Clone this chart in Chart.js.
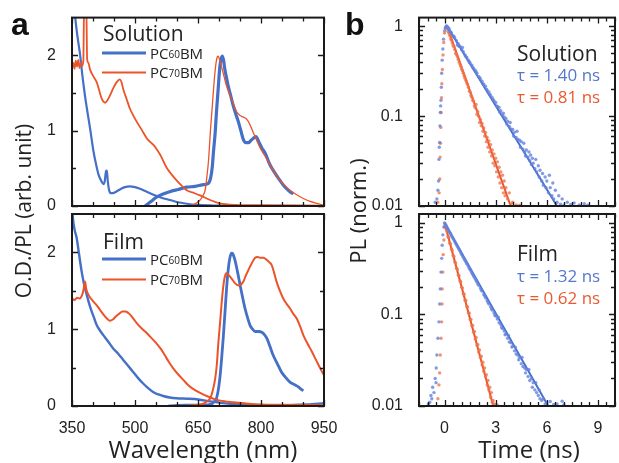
<!DOCTYPE html>
<html>
<head>
<meta charset="utf-8">
<script src="https://cdn.jsdelivr.net/npm/chart.js@4.4.0/dist/chart.umd.min.js"></script>
<style>
  body { margin: 0; background: #fff; width: 619px; height: 463px; position: relative; overflow: hidden; font-family: 'Open Sans', sans-serif; color: #222; }
  canvas { position: absolute; left: 0; top: 0; }
  .lbl { position: absolute; white-space: nowrap; line-height: 1; }
  .mid { transform: translateY(-50%); }
  .ctr { transform: translate(-50%, -50%); }
  .rot { transform: translate(-50%, -50%) rotate(-90deg); }
  .letter { font: bold 32px 'Liberation Sans', Arial, sans-serif; color: #111; }
  .title { font-size: 24px; }
  .head { font-size: 21px; }
  .leg { font-size: 15px; display: flex; align-items: center; }
  .leg span.ln { display: inline-block; width: 44px; margin-right: 4px; }
  .leg sub { font-size: 10px; vertical-align: -3px; }
  .tau { font-size: 17px; }
</style>
</head>
<body>
<canvas id="absSol" width="619" height="463"></canvas>
<canvas id="absFilm" width="619" height="463"></canvas>
<canvas id="plSol" width="619" height="463"></canvas>
<canvas id="plFilm" width="619" height="463"></canvas>

<div class="lbl letter" style="left:11px;top:6px">a</div>
<div class="lbl letter" style="left:345px;top:6px">b</div>
<div class="lbl title ctr" style="left:203px;top:449px">Wavelength (nm)</div>
<div class="lbl title ctr" style="left:529px;top:449px">Time (ns)</div>
<div class="lbl title rot" style="left:23px;top:211px;font-size:21px">O.D./PL (arb. unit)</div>
<div class="lbl title rot" style="left:357px;top:211px;font-size:22px">PL (norm.)</div>

<div class="lbl head mid" style="left:103px;top:33px">Solution</div>
<div class="lbl leg mid" style="left:102px;top:53px"><span class="ln" style="height:3px;background:#4470c8"></span>PC<sub>60</sub>BM</div>
<div class="lbl leg mid" style="left:102px;top:72px"><span class="ln" style="height:2px;background:#ec5328"></span>PC<sub>70</sub>BM</div>

<div class="lbl head mid" style="left:103px;top:241px">Film</div>
<div class="lbl leg mid" style="left:102px;top:259px"><span class="ln" style="height:3px;background:#4470c8"></span>PC<sub>60</sub>BM</div>
<div class="lbl leg mid" style="left:102px;top:279px"><span class="ln" style="height:2px;background:#ec5328"></span>PC<sub>70</sub>BM</div>

<div class="lbl head mid" style="left:517px;top:53px">Solution</div>
<div class="lbl tau mid" style="left:517px;top:74px;color:#5577cc">τ = 1.40 ns</div>
<div class="lbl tau mid" style="left:517px;top:96px;color:#e95a30">τ = 0.81 ns</div>

<div class="lbl head mid" style="left:517px;top:253px">Film</div>
<div class="lbl tau mid" style="left:517px;top:275px;color:#5577cc">τ = 1.32 ns</div>
<div class="lbl tau mid" style="left:517px;top:297px;color:#e95a30">τ = 0.62 ns</div>

<script>
// axis labels
const wlTicks = [350, 500, 650, 800, 950];
const odTicks = [0, 1, 2];
const timeTicks = [0, 3, 6, 9];
const plTicks = [0.01, 0.1, 1];

// absorption and PL spectra, [wavelength nm, O.D./PL]
const solAbs60 = [[350,3.2],[357,2.55],[363,2.25],[369,2.02],[375,1.72],[381,1.46],[387,1.24],[393,1.03],[401,0.73],[407,0.56],[413,0.42],[419,0.34],[425,0.29],[428,0.33],[431,0.46],[433,0.47],[435,0.34],[438,0.22],[442,0.17],[447,0.17],[455,0.19],[464,0.22],[476,0.25],[488,0.26],[500,0.25],[512,0.23],[528,0.19],[544,0.15],[563,0.11],[583,0.08],[603,0.05],[623,0.03],[650,0.015],[700,0.005],[750,0]];
const solAbs70 = [[350,1.84],[353,1.9],[356,1.82],[359,1.93],[362,1.85],[365,1.94],[368,1.83],[371,1.9],[374,1.86],[377,1.93],[379,2.7],[384,2.7],[386,1.95],[389,1.9],[393,1.81],[401,1.72],[409,1.64],[415,1.53],[421,1.42],[429,1.37],[434,1.4],[440,1.46],[448,1.56],[456,1.64],[464,1.68],[468,1.64],[472,1.55],[480,1.42],[488,1.29],[496,1.2],[504,1.12],[516,1.01],[528,0.9],[536,0.85],[544,0.81],[552,0.75],[560,0.68],[568,0.59],[575,0.51],[587,0.42],[599,0.34],[611,0.27],[623,0.21],[637,0.18],[655,0.14],[679,0.08],[702,0.035],[740,0.015],[800,0.01],[950,0.005]];
const solPL60 = [[524,0],[538,0.06],[552,0.12],[567,0.16],[583,0.19],[603,0.22],[623,0.25],[643,0.26],[660,0.28],[671,0.29],[676,0.31],[680,0.37],[684,0.52],[687,0.73],[691,0.98],[694,1.25],[698,1.55],[702,1.85],[706,1.97],[708,1.99],[711,1.93],[714,1.81],[718,1.7],[722,1.59],[728,1.46],[734,1.33],[740,1.22],[746,1.12],[752,1.0],[758,0.88],[764,0.84],[770,0.84],[776,0.87],[782,0.9],[788,0.92],[794,0.86],[802,0.77],[810,0.7],[821,0.55],[833,0.44],[845,0.34],[853,0.28],[861,0.23],[869,0.19],[877,0.16]];
const solPL70 = [[627,0],[640,0.02],[655,0.08],[662,0.14],[667,0.21],[671,0.38],[675,0.6],[680,1.03],[684,1.32],[687,1.55],[690,1.75],[693,1.9],[696,1.98],[698,1.99],[702,1.93],[706,1.85],[712,1.72],[718,1.59],[724,1.5],[730,1.42],[736,1.33],[742,1.25],[750,1.2],[758,1.18],[764,1.16],[770,1.12],[776,1.05],[782,0.97],[790,0.87],[798,0.77],[810,0.66],[821,0.55],[833,0.44],[845,0.34],[857,0.27],[869,0.21],[885,0.15],[901,0.1],[917,0.06],[933,0.035],[950,0.01]];

const filmAbs60 = [[350,2.6],[352,2.45],[356,2.3],[361,2.19],[367,1.97],[373,1.75],[379,1.58],[385,1.45],[391,1.33],[397,1.23],[403,1.14],[409,1.05],[417,0.98],[425,0.92],[436,0.84],[448,0.75],[460,0.68],[472,0.6],[484,0.52],[496,0.44],[508,0.36],[520,0.29],[532,0.23],[544,0.18],[556,0.15],[567,0.13],[583,0.11],[599,0.1],[625,0.095],[651,0.085],[679,0.06],[700,0.045],[726,0.03],[760,0.02],[790,0.012],[830,0.01],[870,0.012],[910,0.02],[950,0.035]];
const filmAbs70 = [[350,1.4],[356,1.38],[362,1.41],[368,1.4],[373,1.43],[377,1.5],[381,1.62],[384,1.52],[389,1.45],[395,1.4],[401,1.36],[409,1.31],[417,1.25],[425,1.19],[433,1.14],[440,1.11],[448,1.13],[455,1.17],[462,1.2],[470,1.23],[478,1.23],[484,1.21],[490,1.18],[497,1.13],[504,1.08],[516,1.01],[528,0.95],[540,0.88],[552,0.81],[562,0.74],[571,0.66],[581,0.57],[591,0.49],[603,0.41],[615,0.34],[627,0.27],[639,0.22],[655,0.17],[675,0.12],[695,0.08],[715,0.06],[734,0.05],[770,0.03],[800,0.02],[850,0.015],[950,0.01]];
const filmPL60 = [[580,0],[620,0.01],[650,0.01],[670,0.015],[679,0.02],[688,0.05],[694,0.1],[698,0.2],[702,0.36],[706,0.6],[710,0.88],[714,1.2],[718,1.53],[722,1.78],[726,1.93],[730,1.99],[733,1.98],[738,1.9],[744,1.75],[750,1.58],[756,1.42],[762,1.27],[768,1.15],[774,1.05],[780,1.0],[786,0.97],[794,0.97],[802,0.96],[808,0.93],[814,0.88],[821,0.78],[829,0.66],[839,0.55],[849,0.44],[859,0.37],[869,0.31],[879,0.28],[889,0.25],[895,0.22],[901,0.2]];
const filmPL70 = [[620,0],[640,0.01],[655,0.02],[663,0.03],[671,0.06],[679,0.1],[685,0.2],[691,0.36],[695,0.55],[698,0.79],[702,1.05],[706,1.32],[710,1.55],[713,1.66],[716,1.72],[718,1.73],[722,1.71],[730,1.66],[738,1.6],[746,1.57],[752,1.58],[758,1.62],[764,1.7],[770,1.77],[778,1.86],[786,1.93],[792,1.94],[798,1.93],[806,1.93],[814,1.9],[820,1.87],[825,1.84],[831,1.74],[837,1.62],[845,1.5],[853,1.4],[861,1.33],[869,1.27],[877,1.2],[885,1.14],[893,1.04],[901,0.92],[911,0.81],[921,0.71],[931,0.6],[941,0.49],[950,0.4]];

// time-resolved PL, [time ns, normalised PL]
const solDecay60 = [[-0.55,0.011],[-0.45,0.012],[-0.39,0.015],[-0.35,0.019],[-0.33,0.033],[-0.31,0.045],[-0.29,0.051],[-0.27,0.078],[-0.25,0.11],[-0.23,0.13],[-0.21,0.15],[-0.19,0.21],[-0.17,0.3],[-0.14,0.42],[-0.1,0.56],[-0.06,0.72],[0,0.89],[0.05,0.95],[0.1,1.0],[0.15,1.0],
  [0.2,0.96],[0.25,0.95],[0.3,0.9],[0.35,0.86],[0.4,0.85],[0.5,0.78],[0.55,0.77],[0.6,0.74],[0.7,0.69],[0.75,0.62],[0.8,0.64],[0.85,0.6],[0.9,0.6],[1.0,0.55],[1.05,0.58],[1.1,0.52],[1.2,0.48],[1.25,0.46],[1.3,0.45],[1.4,0.42],[1.45,0.4],[1.5,0.39],[1.6,0.37],[1.65,0.35],[1.7,0.34],[1.8,0.325],[1.85,0.31],[1.9,0.3],[2.0,0.275],[2.05,0.27],[2.1,0.26],[2.2,0.245],[2.25,0.23],[2.3,0.225],[2.4,0.215],[2.45,0.2],[2.5,0.195],[2.6,0.186],[2.65,0.175],[2.7,0.17],[2.8,0.16],[2.85,0.152],[2.9,0.148],[3.0,0.142],[3.05,0.13],[3.1,0.128],[3.2,0.125],[3.25,0.11],[3.3,0.115],[3.4,0.103],[3.45,0.108],[3.5,0.098],[3.6,0.094],[3.65,0.082],[3.7,0.088],[3.8,0.077],[3.85,0.085],[3.9,0.072],[4.0,0.071],[4.05,0.06],[4.1,0.066],[4.2,0.058],[4.25,0.068],[4.3,0.055],[4.4,0.054],[4.45,0.045],[4.5,0.052],[4.6,0.043],[4.65,0.05],[4.7,0.04],[4.75,0.036],[4.8,0.042],[4.9,0.035],[4.95,0.04],[5.0,0.032],[5.05,0.037],[5.1,0.029],[5.15,0.034],[5.2,0.03],[5.3,0.026],[5.35,0.033],[5.4,0.024],[5.5,0.028],[5.55,0.021],[5.6,0.025],[5.7,0.019],[5.75,0.023],[5.8,0.017],[5.9,0.021],[5.95,0.016],[6.0,0.019],[6.1,0.014],[6.15,0.022],[6.2,0.016],[6.3,0.013],[6.35,0.018],[6.4,0.012],[6.5,0.015],[6.6,0.011],[6.7,0.013],[6.8,0.0105],[6.9,0.012],[7.0,0.0102],[7.2,0.011],[7.4,0.0104],[7.6,0.0108],[7.9,0.0103],[8.2,0.0106],[8.4,0.0102]];
const solDecay70 = [[-0.4,0.011],[-0.32,0.014],[-0.28,0.02],[-0.26,0.035],[-0.24,0.05],[-0.22,0.075],[-0.2,0.11],[-0.18,0.16],[-0.16,0.23],[-0.13,0.33],[-0.09,0.48],[-0.05,0.66],[0,0.84],[0.05,0.96],[0.1,1.0],
  [0.15,0.95],[0.2,0.88],[0.25,0.84],[0.3,0.79],[0.35,0.73],[0.4,0.7],[0.45,0.65],[0.5,0.61],[0.55,0.59],[0.6,0.55],[0.65,0.5],[0.7,0.485],[0.75,0.46],[0.8,0.43],[0.85,0.4],[0.9,0.38],[0.95,0.36],[1.0,0.335],[1.05,0.32],[1.1,0.3],[1.15,0.28],[1.2,0.265],[1.25,0.25],[1.3,0.235],[1.35,0.225],[1.4,0.21],[1.45,0.19],[1.5,0.186],[1.55,0.17],[1.6,0.162],[1.65,0.15],[1.7,0.147],[1.75,0.13],[1.8,0.124],[1.85,0.135],[1.9,0.105],[1.95,0.112],[2.0,0.1],[2.05,0.085],[2.1,0.092],[2.15,0.078],[2.2,0.083],[2.25,0.068],[2.3,0.074],[2.35,0.06],[2.4,0.066],[2.45,0.052],[2.5,0.058],[2.55,0.045],[2.6,0.053],[2.65,0.04],[2.7,0.048],[2.75,0.036],[2.8,0.042],[2.85,0.03],[2.9,0.038],[2.95,0.028],[3.0,0.034],[3.05,0.024],[3.1,0.031],[3.15,0.021],[3.2,0.027],[3.25,0.018],[3.3,0.024],[3.35,0.016],[3.4,0.022],[3.45,0.014],[3.5,0.019],[3.55,0.013],[3.6,0.016],[3.7,0.012],[3.8,0.014],[3.9,0.0105],[4.0,0.011],[4.2,0.0103],[4.4,0.0102]];
const filmDecay60 = [[-0.95,0.0105],[-0.87,0.011],[-0.8,0.013],[-0.75,0.012],[-0.7,0.016],[-0.62,0.014],[-0.55,0.02],[-0.5,0.018],[-0.49,0.026],[-0.45,0.036],[-0.39,0.055],[-0.33,0.083],[-0.29,0.13],[-0.25,0.19],[-0.21,0.29],[-0.17,0.41],[-0.14,0.57],[-0.1,0.74],[-0.04,0.9],[0,1.0],
  [0.05,0.96],[0.1,0.93],[0.15,0.89],[0.2,0.855],[0.25,0.82],[0.3,0.79],[0.35,0.76],[0.4,0.73],[0.45,0.7],[0.5,0.675],[0.55,0.65],[0.6,0.625],[0.65,0.6],[0.7,0.58],[0.75,0.555],[0.8,0.535],[0.85,0.515],[0.9,0.495],[0.95,0.475],[1.0,0.455],[1.05,0.44],[1.1,0.42],[1.15,0.405],[1.2,0.39],[1.25,0.375],[1.3,0.36],[1.35,0.35],[1.4,0.335],[1.45,0.32],[1.5,0.31],[1.55,0.298],[1.6,0.285],[1.65,0.275],[1.7,0.265],[1.75,0.255],[1.8,0.245],[1.85,0.235],[1.9,0.226],[1.95,0.217],[2.0,0.208],[2.1,0.194],[2.15,0.185],[2.2,0.18],[2.3,0.165],[2.35,0.16],[2.4,0.152],[2.5,0.142],[2.55,0.135],[2.6,0.13],[2.7,0.121],[2.75,0.115],[2.8,0.112],[2.9,0.104],[2.95,0.098],[3.0,0.096],[3.1,0.089],[3.15,0.093],[3.2,0.081],[3.3,0.077],[3.35,0.072],[3.4,0.07],[3.5,0.066],[3.55,0.06],[3.6,0.061],[3.7,0.055],[3.75,0.059],[3.8,0.05],[3.9,0.049],[3.95,0.044],[4.0,0.045],[4.1,0.04],[4.15,0.044],[4.2,0.037],[4.3,0.036],[4.35,0.032],[4.4,0.034],[4.5,0.029],[4.55,0.034],[4.6,0.027],[4.7,0.026],[4.75,0.023],[4.8,0.025],[4.9,0.021],[4.95,0.025],[5.0,0.019],[5.1,0.02],[5.15,0.016],[5.2,0.018],[5.3,0.015],[5.35,0.018],[5.4,0.014],[5.5,0.013],[5.55,0.015],[5.6,0.012],[5.7,0.0115],[5.8,0.012],[5.9,0.0105],[6.0,0.0108],[6.2,0.0112],[6.4,0.0104],[6.6,0.0105],[6.9,0.0113],[7.0,0.0103]];
const filmDecay70 = [[-0.39,0.012],[-0.33,0.017],[-0.29,0.023],[-0.25,0.036],[-0.21,0.055],[-0.17,0.083],[-0.15,0.13],[-0.14,0.19],[-0.1,0.29],[-0.08,0.45],[-0.04,0.65],[0,0.9],[0.02,0.98],
  [0.05,0.93],[0.1,0.84],[0.15,0.8],[0.2,0.71],[0.25,0.69],[0.3,0.6],[0.35,0.59],[0.4,0.52],[0.45,0.5],[0.5,0.44],[0.55,0.43],[0.6,0.375],[0.65,0.365],[0.7,0.32],[0.75,0.31],[0.8,0.27],[0.85,0.265],[0.9,0.232],[0.95,0.228],[1.0,0.198],[1.05,0.194],[1.1,0.168],[1.15,0.166],[1.2,0.143],[1.25,0.142],[1.3,0.122],[1.35,0.121],[1.4,0.104],[1.45,0.103],[1.5,0.088],[1.55,0.088],[1.6,0.075],[1.65,0.076],[1.7,0.064],[1.75,0.065],[1.8,0.054],[1.85,0.056],[1.9,0.046],[1.95,0.047],[2.0,0.039],[2.05,0.041],[2.1,0.034],[2.15,0.035],[2.2,0.028],[2.25,0.03],[2.3,0.024],[2.35,0.026],[2.4,0.021],[2.45,0.022],[2.5,0.017],[2.55,0.019],[2.6,0.015],[2.65,0.016],[2.7,0.0125],[2.75,0.014],[2.8,0.011],[2.85,0.0115],[2.9,0.0105],[3.0,0.0104],[3.1,0.0102]];

// single-exponential fits: start time and lifetime
const solFitStart = 0.15;
const solTau = [1.40, 0.81];
const filmFitStart = 0;
const filmTau = [1.32, 0.62];

const BLUE = '#4470c8';
const RED = '#ec5328';
const BLUE_DOT = 'rgba(100,130,222,0.8)';
const RED_DOT = 'rgba(240,115,75,0.78)';
const tickFont = { family: "'Liberation Sans', Arial, sans-serif", size: 16 };

const toXY = arr => arr.map(p => ({ x: p[0], y: p[1] }));
const fitLine = (t0, tau) => [{ x: t0, y: 1 }, { x: t0 + tau * Math.log(100), y: 0.01 }];

// inward tick marks on all four sides plus the frame
function frameTicks(xMinor, xMajor, yMinor, yMajor) {
  return {
    id: 'frameTicks',
    afterDraw(chart) {
      const { ctx, chartArea: a } = chart;
      const x = chart.scales.x, y = chart.scales.y;
      ctx.save();
      ctx.strokeStyle = '#1a1a1a';
      ctx.lineWidth = 1.3;
      ctx.beginPath();
      xMinor.forEach(v => {
        const p = Math.round(x.getPixelForValue(v)) + 0.5;
        const len = xMajor.includes(v) ? 6 : 4;
        ctx.moveTo(p, a.bottom); ctx.lineTo(p, a.bottom - len);
        ctx.moveTo(p, a.top); ctx.lineTo(p, a.top + len);
      });
      yMinor.forEach(v => {
        const p = Math.round(y.getPixelForValue(v)) + 0.5;
        const len = yMajor.includes(v) ? 6 : 4;
        ctx.moveTo(a.left, p); ctx.lineTo(a.left + len, p);
        ctx.moveTo(a.right, p); ctx.lineTo(a.right - len, p);
      });
      ctx.stroke();
      ctx.lineWidth = 2;
      ctx.strokeRect(a.left, a.top, a.right - a.left, a.bottom - a.top);
      ctx.restore();
    }
  };
}

const wlMinor = [];
for (let v = 350; v <= 950; v += 50) wlMinor.push(v);
const odMinor = [0, 0.5, 1, 1.5, 2];
const timeMinor = [];
for (let v = -1.5; v <= 10; v += 0.5) timeMinor.push(v);
const plMinor = [];
[0.01, 0.1].forEach(d => { for (let k = 1; k <= 9; k++) plMinor.push(+(k * d).toFixed(3)); });
plMinor.push(1);

function xAxis(min, max, ticks, showX) {
  return {
    type: 'linear', min, max, display: showX,
    afterBuildTicks: s => { s.ticks = ticks.map(v => ({ value: v })); },
    afterFit: s => { s.height = showX ? 32 : 0; },
    grid: { display: false }, border: { display: false },
    ticks: { font: tickFont, color: '#222', padding: 5, maxRotation: 0, autoSkip: false }
  };
}

function spectrumChart(id, box, showX, sets) {
  return new Chart(document.getElementById(id), {
    type: 'line',
    data: {
      datasets: sets.map(s => ({
        data: toXY(s.data), borderColor: s.color, borderWidth: s.width,
        pointRadius: 0, cubicInterpolationMode: 'monotone', fill: false, clip: 0
      }))
    },
    options: {
      responsive: false, animation: false,
      layout: { padding: { left: box.l - 40, top: box.t, right: 619 - box.r, bottom: 463 - box.b - (showX ? 32 : 0) } },
      plugins: { legend: { display: false }, tooltip: { enabled: false } },
      scales: {
        x: xAxis(350, 950, wlTicks, showX),
        y: {
          type: 'linear', min: 0, max: 2.5,
          afterBuildTicks: s => { s.ticks = odTicks.map(v => ({ value: v })); },
          afterFit: s => { s.width = 40; },
          grid: { display: false }, border: { display: false },
          ticks: { font: tickFont, color: '#222', padding: 8 }
        }
      }
    },
    plugins: [frameTicks(wlMinor, wlTicks, odMinor, odTicks)]
  });
}

function decayChart(id, box, showX, dots60, dots70, t0, taus) {
  return new Chart(document.getElementById(id), {
    type: 'scatter',
    data: {
      datasets: [
        { data: toXY(dots60), pointRadius: 1.7, pointBorderWidth: 0, pointBackgroundColor: BLUE_DOT, clip: 0 },
        { data: toXY(dots70), pointRadius: 1.7, pointBorderWidth: 0, pointBackgroundColor: RED_DOT, clip: 0 },
        { data: fitLine(t0, taus[0]), showLine: true, borderColor: BLUE, borderWidth: 2, pointRadius: 0, clip: 0 },
        { data: fitLine(t0, taus[1]), showLine: true, borderColor: RED, borderWidth: 2, pointRadius: 0, clip: 0 }
      ]
    },
    options: {
      responsive: false, animation: false,
      layout: { padding: { left: box.l - 48, top: box.t, right: 619 - box.r, bottom: 463 - box.b - (showX ? 32 : 0) } },
      plugins: { legend: { display: false }, tooltip: { enabled: false } },
      scales: {
        x: xAxis(-1.5, 10, timeTicks, showX),
        y: {
          type: 'logarithmic', min: 0.01, max: 1.25,
          afterBuildTicks: s => { s.ticks = plTicks.map(v => ({ value: v })); },
          afterFit: s => { s.width = 48; },
          grid: { display: false }, border: { display: false },
          ticks: { font: tickFont, color: '#222', padding: 8, callback: v => String(v) }
        }
      }
    },
    plugins: [frameTicks(timeMinor, timeTicks, plMinor, plTicks)]
  });
}

spectrumChart('absSol', { l: 72, t: 14, r: 324, b: 206 }, false, [
  { data: solAbs70, color: RED, width: 1.8 },
  { data: solPL70, color: RED, width: 1.3 },
  { data: solAbs60, color: BLUE, width: 2.2 },
  { data: solPL60, color: BLUE, width: 3.2 }
]);
spectrumChart('absFilm', { l: 72, t: 214, r: 324, b: 406 }, true, [
  { data: filmAbs70, color: RED, width: 2 },
  { data: filmPL70, color: RED, width: 2 },
  { data: filmAbs60, color: BLUE, width: 2.4 },
  { data: filmPL60, color: BLUE, width: 2.8 }
]);
decayChart('plSol', { l: 419, t: 14, r: 618, b: 206 }, false, solDecay60, solDecay70, solFitStart, solTau);
decayChart('plFilm', { l: 419, t: 214, r: 618, b: 406 }, true, filmDecay60, filmDecay70, filmFitStart, filmTau);
</script>
</body>
</html>
